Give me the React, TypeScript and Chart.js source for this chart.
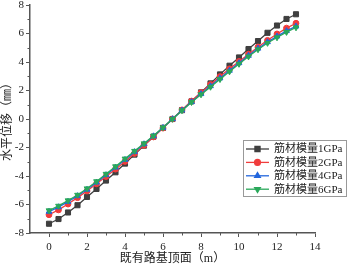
import React, { useEffect, useRef } from "react";
import { Chart, registerables } from "chart.js";
import { drawPoint } from "chart.js/helpers";

Chart.register(...registerables);

const xValues = [0, 0.5, 1, 1.5, 2, 2.5, 3, 3.5, 4, 4.5, 5, 5.5, 6, 6.5, 7, 7.5, 8, 8.5, 9, 9.5, 10, 10.5, 11, 11.5, 12, 12.5, 13];

const seriesLabels = ["筋材模量1GPa", "筋材模量2GPa", "筋材模量4GPa", "筋材模量6GPa"];

const gpa1 = [-7.35, -7.02, -6.56, -6.05, -5.47, -4.91, -4.32, -3.74, -3.13, -2.5, -1.87, -1.24, -0.62, 0, 0.62, 1.24, 1.87, 2.5, 3.13, 3.74, 4.32, 4.91, 5.47, 6.05, 6.56, 7.02, 7.35];
const gpa2 = [-6.72, -6.38, -5.97, -5.52, -5.05, -4.55, -4.04, -3.52, -2.98, -2.42, -1.85, -1.26, -0.64, 0, 0.64, 1.26, 1.85, 2.42, 2.98, 3.52, 4.04, 4.55, 5.05, 5.52, 5.97, 6.38, 6.72];
const gpa4 = [-6.5, -6.18, -5.8, -5.4, -4.95, -4.45, -3.93, -3.4, -2.86, -2.31, -1.76, -1.2, -0.61, 0, 0.61, 1.2, 1.76, 2.31, 2.86, 3.4, 3.93, 4.45, 4.95, 5.4, 5.8, 6.18, 6.5];
const gpa6 = [-6.42, -6.1, -5.72, -5.33, -4.88, -4.38, -3.86, -3.33, -2.79, -2.25, -1.72, -1.18, -0.6, 0, 0.6, 1.18, 1.72, 2.25, 2.79, 3.33, 3.86, 4.38, 4.88, 5.33, 5.72, 6.1, 6.42];

const xMajorTicks = [0, 2, 4, 6, 8, 10, 12, 14];
const xMinorTicks = [1, 3, 5, 7, 9, 11, 13];
const yMinorTicks = [-7, -5, -3, -1, 1, 3, 5, 7];

const colors = ["#3f3f3f", "#f03c3c", "#2266dd", "#2aa85a"];
const styles = ["rect", "circle", "triangle", "triangle"];
const rotations = [0, 0, 0, 180];
const radii = [3.6, 2.9, 3.3, 3.3];

const AXIS_COLOR = "#555555";
const FONT = "'Liberation Serif', 'Noto Sans CJK SC', serif";

const minorTickPlugin = {
  id: "minorTicks",
  afterDraw(chart: any) {
    const ctx = chart.ctx;
    const xs = chart.scales.x;
    const ys = chart.scales.y;
    ctx.save();
    ctx.strokeStyle = AXIS_COLOR;
    ctx.lineWidth = 1;
    const bottom = chart.chartArea.bottom;
    const left = chart.chartArea.left;
    xMinorTicks.forEach((v) => {
      const px = Math.round(xs.getPixelForValue(v)) + 0.5;
      ctx.beginPath();
      ctx.moveTo(px, bottom);
      ctx.lineTo(px, bottom + 2.5);
      ctx.stroke();
    });
    yMinorTicks.forEach((v) => {
      const py = Math.round(ys.getPixelForValue(v)) + 0.5;
      ctx.beginPath();
      ctx.moveTo(left, py);
      ctx.lineTo(left - 2.5, py);
      ctx.stroke();
    });
    ctx.restore();
  },
};

const legendPlugin = {
  id: "boxLegend",
  afterDraw(chart: any) {
    const ctx = chart.ctx;
    const bx = 243.5, by = 140.5, bw = 103, bh = 56;
    ctx.save();
    ctx.fillStyle = "#ffffff";
    ctx.fillRect(bx, by, bw, bh);
    ctx.strokeStyle = "#999999";
    ctx.lineWidth = 1;
    ctx.strokeRect(bx, by, bw, bh);
    chart.data.datasets.forEach((ds: any, i: number) => {
      const cy = by + 8.5 + i * 13.4;
      ctx.strokeStyle = ds.borderColor;
      ctx.lineWidth = 1.3;
      ctx.beginPath();
      ctx.moveTo(246, cy);
      ctx.lineTo(269, cy);
      ctx.stroke();
      ctx.fillStyle = ds.pointBackgroundColor;
      ctx.strokeStyle = ds.pointBorderColor;
      drawPoint(ctx, { pointStyle: ds.pointStyle, rotation: ds.pointRotation, radius: ds.pointRadius, borderWidth: 1 }, 257.5, cy);
      ctx.fillStyle = "#222222";
      ctx.font = `11px ${FONT}`;
      ctx.textAlign = "left";
      ctx.textBaseline = "middle";
      ctx.fillText(ds.label, 274, cy + 0.5);
    });
    ctx.restore();
  },
};

export default function App() {
  const ref = useRef<HTMLCanvasElement | null>(null);

  useEffect(() => {
    document.body.style.margin = "0";
    if (!ref.current) return;
    const data = [gpa1, gpa2, gpa4, gpa6];
    const chart = new Chart(ref.current, {
      type: "line",
      data: {
        datasets: data.map((vals, i) => ({
          label: seriesLabels[i],
          data: xValues.map((x, j) => ({ x, y: vals[j] })),
          borderColor: colors[i],
          backgroundColor: colors[i],
          pointBackgroundColor: colors[i],
          pointBorderColor: colors[i],
          pointStyle: styles[i],
          pointRotation: rotations[i],
          pointRadius: radii[i],
          pointBorderWidth: 1,
          borderWidth: 1.3,
          tension: 0,
          order: 3 - i,
        })),
      },
      options: {
        responsive: false,
        animation: false,
        events: [],
        layout: { padding: { left: 0, top: 4, right: 35, bottom: 0 } },
        plugins: { legend: { display: false }, tooltip: { enabled: false } },
        scales: {
          x: {
            type: "linear",
            min: -1,
            max: 14,
            afterBuildTicks: (scale: any) => {
              scale.ticks = xMajorTicks.map((v) => ({ value: v }));
            },
            afterFit: (scale: any) => {
              scale.height = 32;
              scale.paddingLeft = 0;
              scale.paddingRight = 0;
              scale.paddingTop = 0;
              scale.paddingBottom = 0;
            },
            grid: { drawOnChartArea: false, drawTicks: true, tickLength: 4, color: AXIS_COLOR, lineWidth: 1 },
            border: { display: true, color: AXIS_COLOR, width: 1.5 },
            ticks: {
              color: "#222222",
              font: { family: FONT, size: 11 },
              padding: 4,
              maxRotation: 0,
              autoSkip: false,
            },
            title: {
              display: true,
              text: "既有路基顶面（m）",
              color: "#222222",
              font: { family: FONT, size: 12 },
              padding: { top: 0, bottom: -1 },
            },
          },
          y: {
            type: "linear",
            min: -8,
            max: 8,
            afterFit: (scale: any) => {
              scale.width = 30;
              scale.paddingLeft = 0;
              scale.paddingRight = 0;
              scale.paddingTop = 0;
              scale.paddingBottom = 0;
            },
            grid: { drawOnChartArea: false, drawTicks: true, tickLength: 4, color: AXIS_COLOR, lineWidth: 1 },
            border: { display: true, color: AXIS_COLOR, width: 1.5 },
            ticks: {
              stepSize: 2,
              color: "#222222",
              font: { family: FONT, size: 11 },
              padding: 2,
            },
            title: {
              display: true,
              text: "水平位移（㎜）",
              color: "#222222",
              font: { family: FONT, size: 12 },
              padding: { top: 1, bottom: 0 },
            },
          },
        },
      },
      plugins: [minorTickPlugin, legendPlugin],
    } as any);
    return () => chart.destroy();
  }, []);

  return (
    <div style={{ width: 350, height: 265, background: "#fff" }}>
      <canvas ref={ref} width={350} height={265} style={{ display: "block", width: 350, height: 265 }} />
    </div>
  );
}
